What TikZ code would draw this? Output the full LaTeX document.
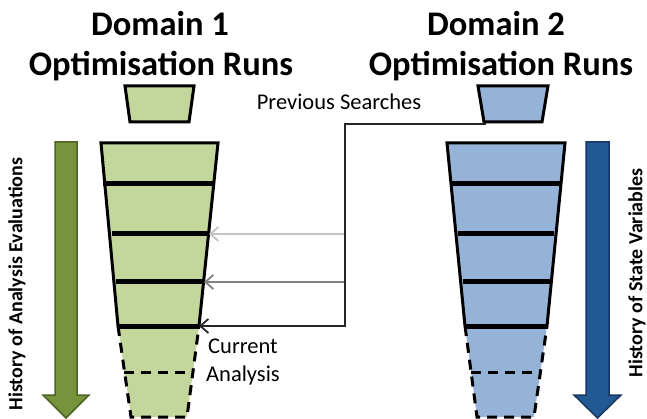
\documentclass[tikz,border=0pt]{standalone}
\usepackage{fontspec}
\setmainfont{Carlito}
\usetikzlibrary{arrows.meta,positioning,calc}
\definecolor{dgreen}{HTML}{C3D69B}
\definecolor{dblue}{HTML}{95B3D7}
\definecolor{agreen}{HTML}{77933C}
\definecolor{agreenline}{HTML}{4F6228}
\definecolor{ablue}{HTML}{215A93}
\definecolor{ablueline}{HTML}{17375E}
\definecolor{trunkgray}{HTML}{262626}
\definecolor{midgray}{HTML}{808080}
\definecolor{lightgray}{HTML}{C4C4C4}

\begin{document}
\begin{tikzpicture}[
    x=1pt,
    y=-1pt,
    font=\fontsize{22.5}{27}\selectfont,
    cone/.style={line width=3pt, line join=miter},
    band/.style={line width=5pt},
    conedash/.style={line width=3pt, dash pattern=on 10pt off 7pt},
    search/.style={line width=2.7pt, -{Straight Barb[length=8pt,width=14pt,line width=1.8pt]}},
    title/.style={font=\fontsize{34.5}{40}\selectfont\bfseries, anchor=base, inner sep=0pt},
    history/.style={font=\fontsize{20}{24}\selectfont\bfseries, rotate=90, inner sep=0pt},
    bigarrow/.style={line width=1.5pt, line join=miter}
  ]
    \useasboundingbox (0,0) rectangle (647,419);

    % titles
    \node[title] (dom1a) at (160,36) {Domain 1};
    \node[title] (dom1b) at (161,76) {Optimisation Runs};
    \node[title] (dom2a) at (496,36) {Domain 2};
    \node[title] (dom2b) at (501,76) {Optimisation Runs};

    % history arrows
    \draw[bigarrow, fill=agreen, draw=agreenline] (55,142) -- (77,142) -- (77,395) -- (89,395) -- (66,418) -- (43,395) -- (55,395) -- cycle;
    \draw[bigarrow, fill=ablue, draw=ablueline] (586,142) -- (609,142) -- (609,395) -- (621,395) -- (597.5,418) -- (574,395) -- (586,395) -- cycle;
    \node[history] (hist1) at (17,284) {History of Analysis Evaluations};
    \node[history] (hist2) at (637,273) {History of State Variables};

    % domain 1 runs
    \draw[cone, fill=dgreen] (125,86) -- (194,86) -- (189,122) -- (130,122) -- cycle;
    \fill[dgreen] (101,143) -- (218,143) -- (199,326) -- (187,417) -- (131,417) -- (118,326) -- cycle;
    \draw[cone] (118,326) -- (101,143) -- (218,143) -- (199,326);
    \foreach \yb/\xl/\xr in {184/103/213, 234/112/208, 282/116/204, 326/117/200}
      \draw[band] (\xl,\yb) -- (\xr,\yb);
    \draw[conedash] (118,326) -- (131,417) -- (187,417) -- (199,326);
    \draw[conedash] (124,372) -- (193,372);

    % domain 2 runs
    \draw[cone, fill=dblue] (478,86) -- (548,86) -- (542,122) -- (484,122) -- cycle;
    \fill[dblue] (447,143) -- (565,143) -- (547,326) -- (534,417) -- (477,417) -- (465,326) -- cycle;
    \draw[cone] (465,326) -- (447,143) -- (565,143) -- (547,326);
    \foreach \yb/\xl/\xr in {184/450/561, 234/458/554, 282/463/550, 326/464/548}
      \draw[band] (\xl,\yb) -- (\xr,\yb);
    \draw[conedash] (465,326) -- (477,417) -- (534,417) -- (547,326);
    \draw[conedash] (471,372) -- (541,372);

    % previous searches
    \coordinate (d2prev) at (486,124);
    \coordinate (trunk) at (345,326);
    \coordinate (d1old) at (209,234);
    \coordinate (d1mid) at (204,282);
    \coordinate (d1cur) at (199,326);
    \draw[search, draw=lightgray] (trunk |- d1old) -- (d1old);
    \draw[search, draw=midgray] (trunk |- d1mid) -- (d1mid);
    \draw[search, draw=trunkgray] (d2prev) -| (trunk) -- (d1cur);
    \node[anchor=base, inner sep=0pt] (prevlbl) at (339,110) {Previous Searches};
    \node[anchor=base west, inner sep=0pt] (curlbl1) at (208,353) {Current};
    \node[anchor=base west, inner sep=0pt] (curlbl2) at (206,381) {Analysis};
  \end{tikzpicture}
\end{document}
